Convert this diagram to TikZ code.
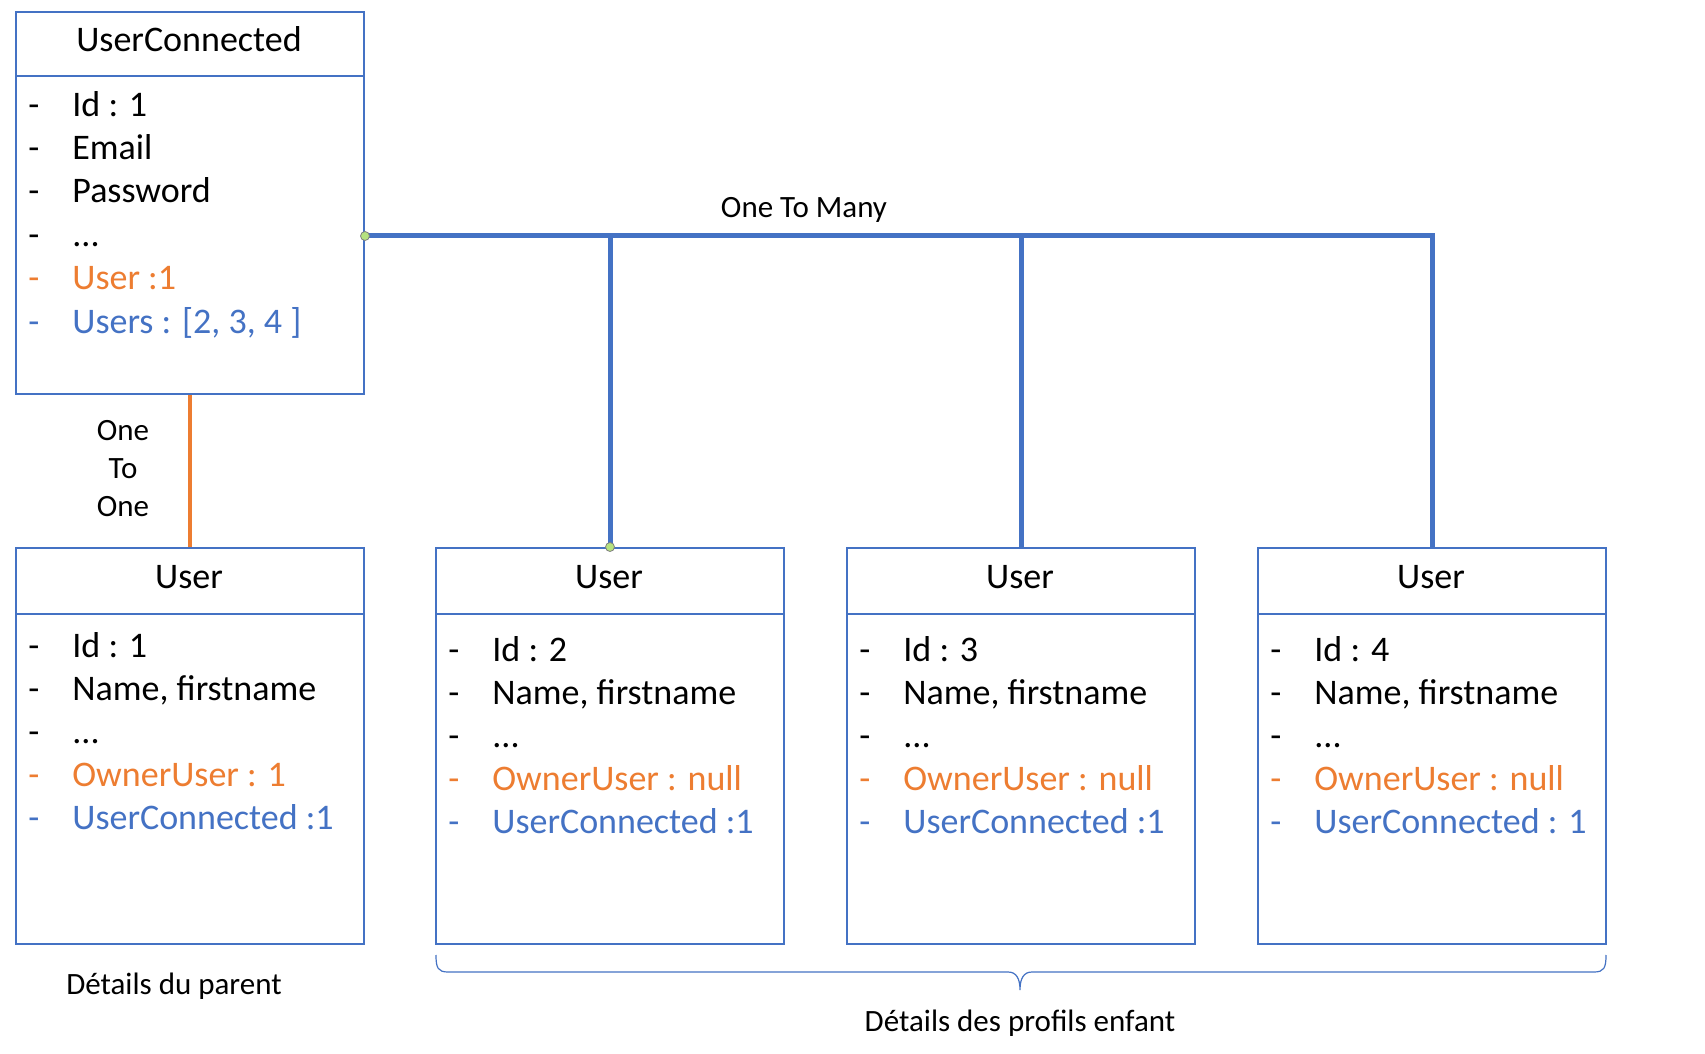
\documentclass[tikz,border=0pt]{standalone}
\usepackage{fontspec}
\setmainfont{Carlito}
\definecolor{obl}{HTML}{4472C4}
\definecolor{oor}{HTML}{ED7D31}
\definecolor{dotg}{HTML}{B5E27F}
\newcommand\mkuser[6]{%
  \node[box, minimum height=198pt] (#1) at (#2,547) {};
  \draw[hline] ([yshift=-33.5pt]#1.north west) -- ([yshift=-33.5pt]#1.north east);
  \node[title] (#1-t) at ({#2+174},588) {User};
  \node[item] (#1-d1) at ({#2+13},#3) {-};
  \node[item] (#1-i1) at ({#2+57},#3) {Id : #4};
  \node[item] (#1-d2) at ({#2+13},{#3+43}) {-};
  \node[item] (#1-i2) at ({#2+57},{#3+43}) {Name, firstname};
  \node[item] (#1-d3) at ({#2+13},{#3+86}) {-};
  \node[item] (#1-i3) at ({#2+57},{#3+86}) {...};
  \node[item, text=oor] (#1-d4) at ({#2+13},{#3+129}) {-};
  \node[item, text=oor] (#1-i4) at ({#2+57},{#3+129}) {#5};
  \node[item, text=obl] (#1-d5) at ({#2+13},{#3+172}) {-};
  \node[item, text=obl] (#1-i5) at ({#2+57},{#3+172}) {#6};
}
\begin{document}
\begin{tikzpicture}[x=0.5pt,y=-0.5pt,
  box/.style={draw=obl, line width=1pt, anchor=north west, minimum width=174pt, inner sep=0pt},
  hline/.style={draw=obl, line width=1pt},
  title/.style={font=\fontsize{18}{21}\selectfont, anchor=base, inner sep=0pt},
  item/.style={font=\fontsize{18}{21}\selectfont, anchor=base west, inner sep=0pt},
  lbl/.style={font=\fontsize{15.5}{19}\selectfont, anchor=base, inner sep=0pt},
  o2m/.style={draw=obl, line width=2.5pt},
  o2o/.style={draw=oor, line width=2.3pt},
  brace/.style={draw=obl, line width=0.6pt},
  dot/.style={circle, fill=dotg, draw=black!50, line width=0.4pt, inner sep=0pt, minimum size=4.5pt}]
\useasboundingbox[fill=white] (0,0) rectangle (1705,1054);

% UserConnected
\node[box, minimum height=191pt] (uc) at (15,11) {};
\draw[hline] ([yshift=-32.5pt]uc.north west) -- ([yshift=-32.5pt]uc.north east);
\node[title] (uc-t) at (189,52) {UserConnected};
\node[item] (uc-d1) at (28,117) {-};
\node[item] (uc-i1) at (72,117) {Id : 1};
\node[item] (uc-d2) at (28,160) {-};
\node[item] (uc-i2) at (72,160) {Email};
\node[item] (uc-d3) at (28,203) {-};
\node[item] (uc-i3) at (72,203) {Password};
\node[item] (uc-d4) at (28,247) {-};
\node[item] (uc-i4) at (72,247) {...};
\node[item, text=oor] (uc-d5) at (28,290) {-};
\node[item, text=oor] (uc-i5) at (72,290) {User :1};
\node[item, text=obl] (uc-d6) at (28,334) {-};
\node[item, text=obl] (uc-i6) at (72,334) {Users : [2, 3, 4 ]};

% User boxes
\mkuser{u1}{15}{657}{1}{OwnerUser : 1}{UserConnected :1}
\mkuser{u2}{435}{661}{2}{OwnerUser : null}{UserConnected :1}
\mkuser{u3}{846}{661}{3}{OwnerUser : null}{UserConnected :1}
\mkuser{u4}{1257}{661}{4}{OwnerUser : null}{UserConnected : 1}

% One to one
\draw[o2o] (uc.south) -- (u1.north);
\node[lbl] (oto1) at (123,440) {One};
\node[lbl] (oto2) at (123,478) {To};
\node[lbl] (oto3) at (123,516) {One};

% One to many
\coordinate (bus) at ([yshift=-16.5pt]uc.east);
\draw[o2m] (bus) -| (u4.north);
\draw[o2m] (u2.north) -- (u2.north |- bus);
\draw[o2m] (u3.north) -- (u3.north |- bus);
\node[lbl] (otm) at (804,218) {One To Many};
\node[dot] (dot1) at (bus) {};
\node[dot] (dot2) at (u2.north) {};

% captions
\node[lbl] (cap1) at (174,994) {Détails du parent};
\draw[brace] (436,955) .. controls (436,968) and (438,972) .. (448,972) -- (1008,972)
  .. controls (1016,972) and (1020,978) .. (1020,990)
  .. controls (1020,978) and (1024,972) .. (1032,972) -- (1594,972)
  .. controls (1604,972) and (1606,968) .. (1606,955);
\node[lbl] (cap2) at (1020,1031) {Détails des profils enfant};
\end{tikzpicture}
\end{document}
